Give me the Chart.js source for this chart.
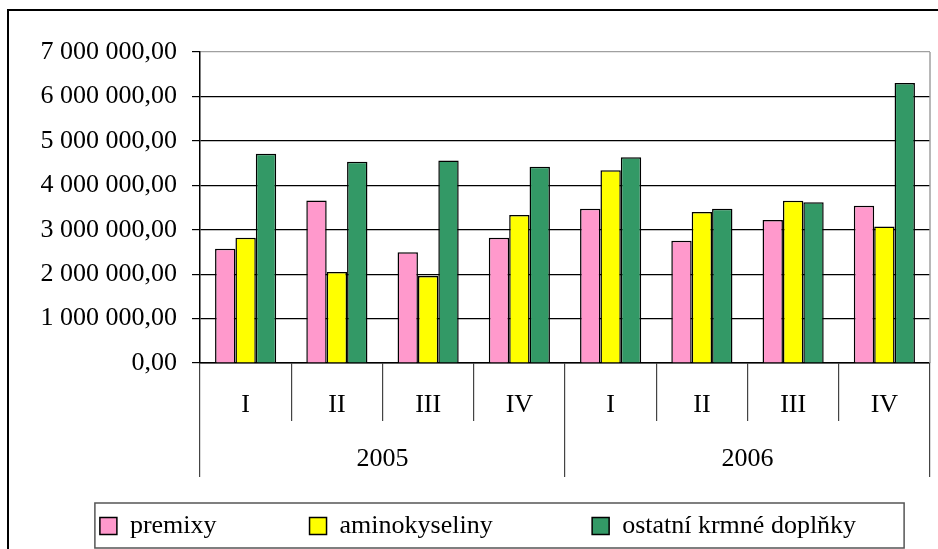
<!DOCTYPE html>
<html>
<head>
<meta charset="utf-8">
<script src="https://cdn.jsdelivr.net/npm/chart.js@4/dist/chart.umd.min.js"></script>
<style>
  html, body { margin: 0; padding: 0; background: #fff; overflow: hidden; }
  .frame { position: absolute; left: 7px; top: 9px; width: 1000px; height: 600px; border: 2px solid #000; }
  #wrap { position: absolute; left: 0; top: 0; width: 938px; height: 549px; }
</style>
</head>
<body>
<div class="frame"></div>
<div id="wrap"><canvas id="chartContainer"></canvas></div>
<script>
// kvartaly a roky
var quarters = ['I', 'II', 'III', 'IV', 'I', 'II', 'III', 'IV'];
var years = ['2005', '2006'];

// hodnoty
var premixy = [2570000, 3660000, 2490000, 2820000, 3470000, 2750000, 3220000, 3540000];
var aminokyseliny = [2820000, 2050000, 1960000, 3330000, 4340000, 3400000, 3650000, 3070000];
var ostatni = [4710000, 4530000, 4560000, 4420000, 4630000, 3470000, 3620000, 6300000];

var serif = 'Liberation Serif';
// mezery za popisky v legendě (rozestupy jako v Excelu)
var legendGap = [14, 15, 0];

// formát "7 000 000,00"
function formatNum(v) {
    var s = Math.round(v).toString().replace(/\B(?=(\d{3})+(?!\d))/g, ' ');
    return s + ',00';
}

// rámečky kolem grafu a legendy
var framePlugin = {
    id: 'framePlugin',
    afterDraw: function (chart) {
        var ctx = chart.ctx;
        var a = chart.chartArea;
        ctx.save();
        ctx.strokeStyle = '#a0a0a0';
        ctx.lineWidth = 1.5;
        ctx.beginPath();
        ctx.moveTo(a.right, a.top);
        ctx.lineTo(a.right, a.bottom);
        ctx.stroke();

        var boxes = chart.legend.legendHitBoxes;
        if (boxes && boxes.length) {
            var first = boxes[0];
            var last = boxes[boxes.length - 1];
            var x1 = first.left - 5;
            var x2 = last.left + last.width + 48;
            var y1 = first.top - 10;
            var y2 = first.top + first.height + 9;
            ctx.strokeStyle = '#555';
            ctx.lineWidth = 1.5;
            ctx.strokeRect(x1, y1, x2 - x1, y2 - y1);
        }
        ctx.restore();
    }
};

var ctx = document.getElementById('chartContainer').getContext('2d');
var myChart = new Chart(ctx, {
    type: 'bar',
    data: {
        labels: quarters,
        datasets: [{
            label: 'premixy',
            data: premixy,
            backgroundColor: '#FF99CC',
            borderColor: '#000',
            borderWidth: 1.5
        }, {
            label: 'aminokyseliny',
            data: aminokyseliny,
            backgroundColor: '#FFFF00',
            borderColor: '#000',
            borderWidth: 1.5
        }, {
            label: 'ostatní krmné doplňky',
            data: ostatni,
            backgroundColor: '#339966',
            borderColor: '#000',
            borderWidth: 1.5
        }]
    },
    options: {
        responsive: true,
        maintainAspectRatio: false,
        animation: false,
        layout: {
            padding: { left: 26, right: 8, top: 52, bottom: 0 }
        },
        datasets: {
            bar: { categoryPercentage: 0.67, barPercentage: 1.0 }
        },
        scales: {
            y: {
                min: 0,
                max: 7000000,
                afterFit: function (scale) { scale.width = 174; },
                ticks: {
                    stepSize: 1000000,
                    autoSkip: false,
                    padding: 15,
                    color: '#000',
                    font: { family: serif, size: 26 },
                    callback: function (v) { return formatNum(v); }
                },
                grid: {
                    color: function (c) { return c.tick && c.tick.value === 7000000 ? '#a0a0a0' : '#000'; },
                    tickColor: '#000',
                    tickLength: 8,
                    lineWidth: 1.2
                },
                border: { color: '#000', width: 1.5 }
            },
            x: {
                weight: 0,
                afterFit: function (scale) { scale.height = 58; },
                ticks: {
                    color: '#000',
                    padding: -31,
                    maxRotation: 0,
                    autoSkip: false,
                    font: { family: serif, size: 26 }
                },
                grid: {
                    drawOnChartArea: false,
                    tickLength: 58,
                    color: '#444',
                    lineWidth: 1.2
                },
                border: { color: '#000', width: 1.5 }
            },
            x2: {
                type: 'category',
                labels: years,
                position: 'bottom',
                offset: true,
                weight: 1,
                afterFit: function (scale) { scale.height = 90; },
                ticks: {
                    color: '#000',
                    padding: -33,
                    maxRotation: 0,
                    font: { family: serif, size: 26 }
                },
                grid: {
                    offset: true,
                    drawOnChartArea: false,
                    tickLength: 56,
                    color: '#444',
                    lineWidth: 1.2
                },
                border: { display: false }
            }
        },
        plugins: {
            legend: {
                position: 'bottom',
                labels: {
                    color: '#000',
                    boxWidth: 17,
                    boxHeight: 17,
                    padding: 2,
                    font: { family: serif, size: 26 },
                    generateLabels: function (chart) {
                        var items = Chart.defaults.plugins.legend.labels.generateLabels(chart);
                        items.forEach(function (it, i) {
                            it.text = it.text + '\u00A0'.repeat(legendGap[i]);
                        });
                        return items;
                    }
                }
            },
            tooltip: { enabled: false }
        }
    },
    plugins: [framePlugin]
});
</script>
</body>
</html>
